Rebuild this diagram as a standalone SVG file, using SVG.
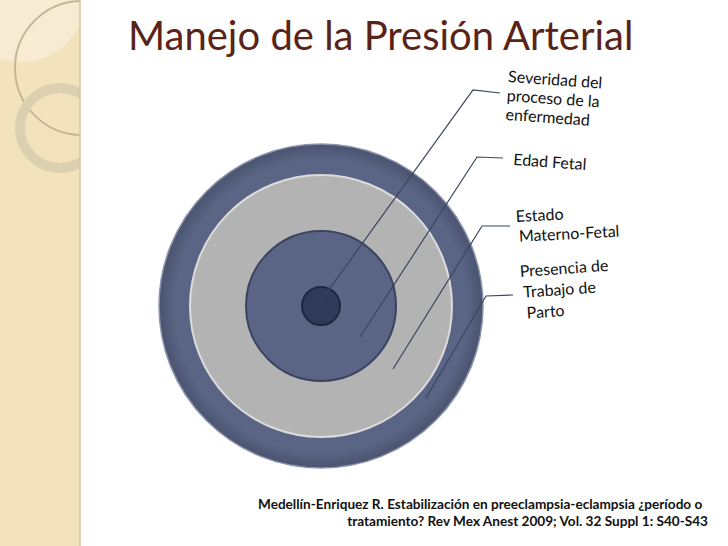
<svg xmlns="http://www.w3.org/2000/svg" width="728" height="546" viewBox="0 0 728 546">
<style>
.lbl{font-family:"Lato","Liberation Sans",sans-serif;font-size:16px;fill:#111}
.cit{font-family:"Lato","Liberation Sans",sans-serif;font-size:13.6px;font-weight:bold;fill:#111}
.con{stroke:#3a4560;stroke-width:1.2;fill:none}
</style>
<defs>
<radialGradient id="g1" cx="0.5" cy="0.5" r="0.5"><stop offset="0.9" stop-color="#5a6585"/><stop offset="1" stop-color="#4a5470"/></radialGradient>
<clipPath id="strip"><rect x="0" y="0" width="80" height="546"/></clipPath>
</defs>
<rect width="728" height="546" fill="#fff"/>
<g id="deco">
<rect x="0" y="0" width="80" height="546" fill="#f3e3bd"/>
<g clip-path="url(#strip)">
<circle cx="22" cy="0" r="62" fill="#f8eed8" opacity="0.8"/>
<circle cx="82" cy="68" r="67" fill="none" stroke="#c4b797" stroke-width="2"/>
<circle cx="60" cy="128" r="40" fill="none" stroke="#ddd0b0" stroke-width="10"/>
</g>
<line x1="80" y1="0" x2="80" y2="546" stroke="#d6c7a0" stroke-width="1.5"/>
</g>
<text x="128" y="50" style="font-family:'Lato','Liberation Sans',sans-serif;font-size:40px;fill:#5b2318">Manejo de la Presión Arterial</text>
<g id="rings">
<circle cx="321" cy="306" r="162" fill="url(#g1)" stroke="#8a93ab" stroke-width="1.5"/>
<circle cx="321" cy="306" r="131" fill="#b3b3b3" stroke="#dcdcdc" stroke-width="2"/>
<circle cx="321" cy="306" r="75" fill="#5a6585" stroke="#3a4460" stroke-width="2"/>
<circle cx="321" cy="306" r="19" fill="#2f3a58" stroke="#1e2740" stroke-width="2"/>
</g>
<g id="connectors">
<polyline class="con" points="320,302 473,90 500,93"/>
<polyline class="con" points="360,337 477,157 503,158"/>
<polyline class="con" points="393,369 482,226 510,226"/>
<polyline class="con" points="426,398 486,296 513,295"/>
</g>
<g id="n1" transform="rotate(4 508 80)"><text class="lbl" x="508" y="82">Severidad del</text><text class="lbl" x="508" y="101">proceso de la</text><text class="lbl" x="508" y="120">enfermedad</text></g>
<g id="n2" transform="rotate(4 513 165)"><text class="lbl" x="513" y="165">Edad Fetal</text></g>
<g id="n3" transform="rotate(-3 516 220)"><text class="lbl" x="516" y="222">Estado</text><text class="lbl" x="518" y="242">Materno-Fetal</text></g>
<g id="n4" transform="rotate(-4 520 275)"><text class="lbl" x="520" y="277">Presencia de</text><text class="lbl" x="522" y="298">Trabajo de</text><text class="lbl" x="524" y="319">Parto</text></g>
<text class="cit" x="258" y="509">Medellín-Enriquez R. Estabilización en preeclampsia-eclampsia ¿período o</text>
<text class="cit" x="708" y="526" text-anchor="end">tratamiento? Rev Mex Anest 2009; Vol. 32 Suppl 1: S40-S43</text>
</svg>
